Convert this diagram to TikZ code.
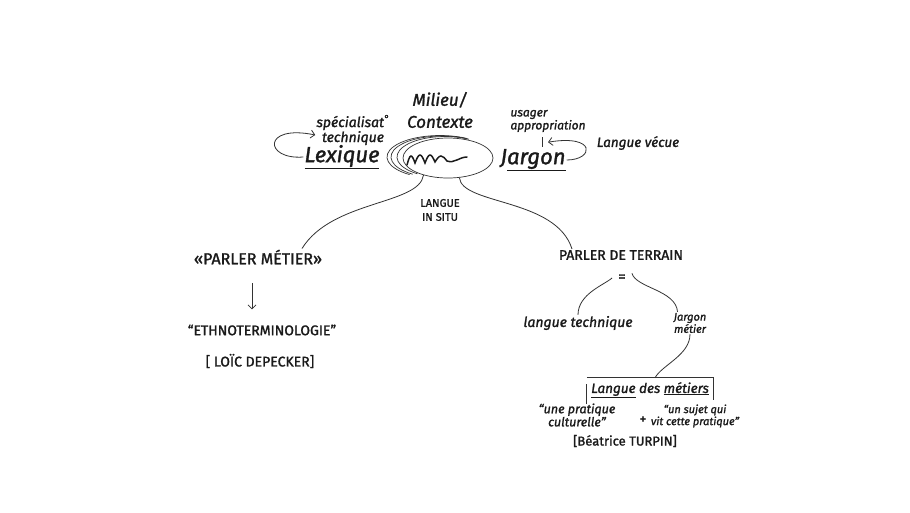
\documentclass[tikz,border=0pt]{standalone}
\usepackage{fontspec}
\setmainfont{Fira Sans}[FakeBold=1.4]
\usetikzlibrary{arrows.meta, positioning, shapes.geometric}
\definecolor{ink}{HTML}{1A1A1A}
\definecolor{pencil}{HTML}{333333}

\begin{document}
\begin{tikzpicture}[
    x=1pt, y=-1pt,
    >={Straight Barb[length=4pt, width=8pt]},
    hand/.style 2 args={
        text=ink,
        align=center,
        inner sep=1pt,
        font=\itshape\fontsize{#1}{#2}\selectfont
    },
    caps/.style 2 args={
        text=ink,
        align=center,
        inner sep=1pt,
        font=\fontsize{#1}{#2}\selectfont
    },
    link/.style={
        draw=pencil,
        line width=0.8pt
    },
    arrowlink/.style={
        link,
        ->
    },
    stroke/.style={
        draw=pencil,
        line width=0.7pt
    }
]
\useasboundingbox[fill=white] (0,0) rectangle (910,512);

% Centre
\node[ellipse, stroke, minimum width=90, minimum height=40] (situ) at (448,158) {};
\foreach \cx/\rx/\ry in {445/48/20.5, 442/51/21, 440/53/21.5}
    \draw[stroke] (\cx,157) ++(300:{\rx} and {\ry}) arc[start angle=300, end angle=125, x radius=\rx, y radius=\ry];
\draw[draw=ink, line width=1.5pt, line cap=round]
    (407,165) sin (411,156) cos (415,163) sin (420,155) cos (425,163)
    sin (430,155) cos (435,162) sin (441,156) cos (447,161) to[out=-20, in=180] (467,157);
\node[hand={17}{22}] (milieu) at (440,110) {Milieu/\\Contexte};
\node[caps={11}{14}] (insitu) at (440,210) {LANGUE\\IN SITU};

% Left of centre
\node[hand={22}{24}] (lexique) at (342,157) {\underline{Lexique}};
\node[hand={14}{13}] (spec) at (353,130) {spécialisat\textsuperscript{°}\\technique};

% Right of centre
\node[hand={22}{24}] (jargon) at (533,160) {J\underline{argon}};
\node[hand={12}{11}, align=left] (usager) at (548,121) {usager\\appropriation};
\node[hand={13.5}{15}] (vecue) at (638,143) {Langue vécue};

% Left branch
\node[caps={16}{18}] (pm) at (258,257) {«PARLER MÉTIER»};
\node[caps={14}{16}] (ethno) at (262,330) {“ETHNOTERMINOLOGIE”};
\node[caps={14}{16}] (depecker) at (260,361) {[ LOÏC DEPECKER]};

% Right branch
\node[caps={14}{16}] (pdt) at (621,255) {PARLER DE TERRAIN};
\node[caps={15}{16}, inner xsep=6pt] (eq) at (622,278) {=};
\node[hand={14}{16}] (lt) at (578,323) {langue technique};
\node[hand={11}{10}] (jm) at (690,323) {Jargon\\métier};
\node[hand={13.5}{15}, minimum width=126, minimum height=24] (ldm) at (650,390) {\underline{Langue} des \underline{métiers}};
\node[hand={12.5}{12}] (culture) at (577,415) {“une pratique\\culturelle”};
\node[caps={14}{14}] (plus) at (643,420) {+};
\node[hand={11}{12}] (sujet) at (695,416) {“un sujet qui\\vit cette pratique”};
\node[caps={13}{15}] (turpin) at (625,441) {[Béatrice TURPIN]};

% Loops
\draw[arrowlink] (lexique.west) .. controls (264,160) and (262,124) .. ([yshift=-5pt]spec.west);
\draw[arrowlink] (jargon.east) .. controls (594,160) and (597,134) .. ([yshift=-9pt]usager.south);
\draw[link] ([xshift=-6pt, yshift=-4pt]usager.south) -- +(0,10);

% Branches from the centre
\draw[link] (situ.215) .. controls (419,205) and (332,200) .. ([xshift=44pt]pm.north);
\draw[link] (situ.300) .. controls (462,205) and (556,198) .. ([xshift=-49pt]pdt.north);
\draw[arrowlink, shorten <=18pt, shorten >=14pt] ([xshift=-6pt]pm.south) -- ([xshift=-6pt]pm.south |- ethno.north);

% Under parler de terrain
\draw[link] (eq.west) .. controls (604,285) and (578,294) .. (lt.north);
\draw[link] (eq.north east) .. controls (636,288) and (676,290) .. ([xshift=5pt]jm.north west);
\draw[link] (jm.south) .. controls (690,355) and (662,365) .. ([xshift=5pt]ldm.north);
\draw[link] ([yshift=-2pt]ldm.south west) -- ([yshift=-6pt]ldm.north west);
\draw[link] (ldm.north west) -- (ldm.north east) -- ([yshift=2pt]ldm.south east);

\end{tikzpicture}
\end{document}
